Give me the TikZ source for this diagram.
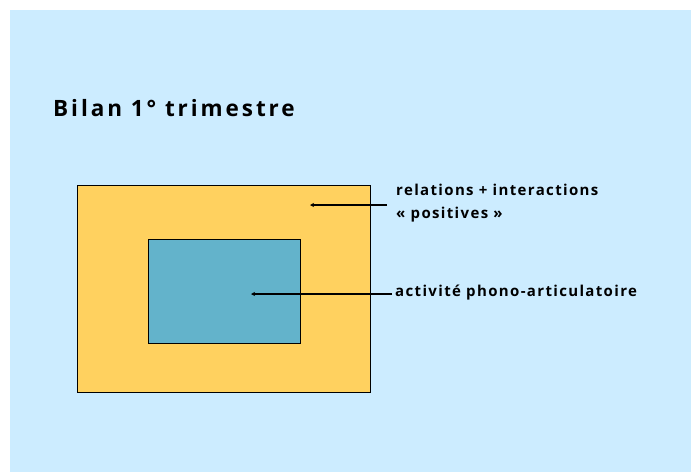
\documentclass[tikz,border=0pt]{standalone}
\usepackage{fontspec}
\setmainfont{Open Sans}[Ligatures=NoCommon]
\usetikzlibrary{arrows.meta}
\definecolor{bgblue}{RGB}{204,236,255}
\definecolor{boxorange}{RGB}{255,209,95}
\definecolor{boxteal}{RGB}{99,179,203}
\tikzset{
  boxframe/.style={draw=black, line width=0.9pt},
  pointer/.style={line width=1.3pt, -{Stealth[length=4pt,width=4pt]}},
  lbl/.style={anchor=base west, inner sep=0pt, font=\bfseries\fontsize{15}{18}\selectfont\addfontfeatures{LetterSpace=9}},
}
\begin{document}
\begin{tikzpicture}[x=1pt,y=-1pt]
\useasboundingbox (0,0) rectangle (691,472);
\fill[white] (0,0) rectangle (691,472);
\fill[bgblue] (10,10) rectangle (691,472);
\node[anchor=base west, inner sep=0pt, font=\bfseries\fontsize{22.5}{27}\selectfont\addfontfeatures{LetterSpace=13}] (title) at (53,116) {Bilan 1° trimestre};
\draw[boxframe, fill=boxorange] (77,185) rectangle (370,392);
\draw[boxframe, fill=boxteal] (148,239) rectangle (300,343);
\coordinate (outerpt) at (310,205);
\coordinate (innerpt) at (251,294);
\node[lbl] (rel) at (396,195) {relations + interactions};
\node[lbl] (pos) at (396,218) {« positives »};
\node[lbl] (act) at (395,296) {activité phono-articulatoire};
\coordinate (s1) at (387,205);
\coordinate (s2) at (392,294);
\draw[pointer] (s1) -- (outerpt);
\draw[pointer] (s2) -- (innerpt);
\end{tikzpicture}
\end{document}
